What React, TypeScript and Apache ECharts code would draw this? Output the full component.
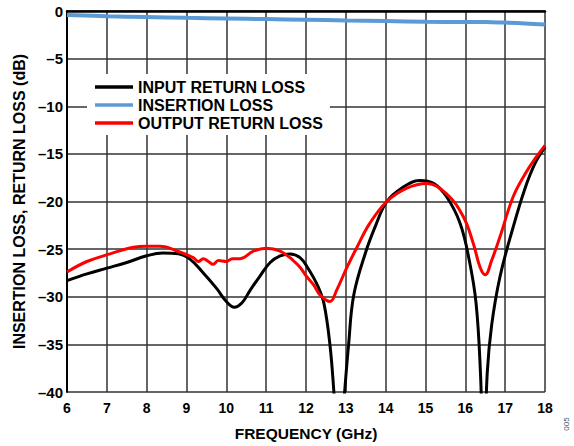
import React, { useEffect, useRef } from "react";
import * as echarts from "echarts";

const xTicks = [6, 7, 8, 9, 10, 11, 12, 13, 14, 15, 16, 17, 18];
const yTicks = [0, -5, -10, -15, -20, -25, -30, -35, -40];

const inputFreq = [6, 6.5, 7, 7.5, 8, 8.4, 8.8, 9.1, 9.4, 9.75, 10.0, 10.2, 10.4, 10.6, 10.85, 11.1, 11.35, 11.6, 11.85, 12.05, 12.3, 12.45, 12.6, 12.7, 12.83, 12.97, 13.07, 13.2, 13.5, 13.75, 14.03, 14.4, 14.85, 15.2, 15.53, 15.87, 16.1, 16.27, 16.38, 16.46, 16.55, 16.66, 16.87, 17.2, 17.5, 17.75, 18];
const inputRL = [-28.3, -27.6, -27.0, -26.4, -25.7, -25.4, -25.5, -26.1, -27.4, -29.1, -30.5, -31.1, -30.6, -29.3, -27.8, -26.4, -25.7, -25.5, -25.9, -27.0, -28.9, -30.7, -35.0, -40.0, -48, -40.0, -35.0, -29.8, -25.3, -22.5, -20.0, -18.6, -17.8, -18.1, -19.5, -22.3, -26.2, -30.7, -38.0, -48, -38.0, -33.0, -27.9, -22.7, -18.6, -16.0, -14.3];

const insertionFreq = [6, 7, 8, 9, 10, 11, 12, 13, 14, 15, 16, 16.5, 17, 17.5, 18];
const insertionLoss = [-0.42, -0.55, -0.64, -0.72, -0.78, -0.85, -0.92, -0.99, -1.05, -1.13, -1.15, -1.16, -1.22, -1.3, -1.42];

const outputFreq = [6, 6.5, 7.08, 7.67, 8.0, 8.33, 8.83, 9.17, 9.3, 9.42, 9.55, 9.67, 9.8, 10.0, 10.15, 10.35, 10.68, 11.0, 11.35, 11.68, 11.85, 12.02, 12.2, 12.35, 12.6, 12.77, 13.03, 13.28, 13.6, 14.03, 14.53, 15.03, 15.53, 15.95, 16.2, 16.37, 16.5, 16.66, 16.87, 17.2, 17.5, 17.75, 18];
const outputRL = [-27.4, -26.3, -25.5, -24.8, -24.7, -24.7, -25.3, -25.9, -26.3, -26.0, -26.3, -26.6, -26.2, -26.3, -26.0, -26.0, -25.2, -24.9, -25.2, -26.2, -26.9, -27.9, -28.8, -29.8, -30.5, -29.3, -26.9, -24.8, -22.3, -20.0, -18.6, -18.1, -19.2, -21.6, -24.4, -26.9, -27.7, -26.2, -23.7, -19.5, -17.1, -15.5, -14.1];

const FONT = "'Liberation Sans', Arial, Helvetica, sans-serif";

function pairs(xs: number[], ys: number[]) {
  return xs.map((x, i) => [x, ys[i]]);
}

export default function App() {
  const ref = useRef<HTMLDivElement>(null);
  useEffect(() => {
    if (!ref.current) return;
    const chart = echarts.init(ref.current, undefined, { renderer: "svg" });
    chart.setOption({
      animation: false,
      backgroundColor: "#fff",
      grid: { left: 67, right: 29, top: 11, bottom: 54, containLabel: false },
      xAxis: {
        type: "value",
        min: xTicks[0],
        max: xTicks[xTicks.length - 1],
        interval: 1,
        name: "FREQUENCY (GHz)",
        nameLocation: "middle",
        nameGap: 33,
        nameTextStyle: { fontFamily: FONT, fontWeight: "bold", fontSize: 15.5, color: "#000" },
        axisLine: { show: true, lineStyle: { color: "#000", width: 2.5 } },
        axisTick: { show: false },
        axisLabel: { fontFamily: FONT, fontWeight: "bold", fontSize: 14, color: "#000", margin: 9 },
        splitLine: { show: true, lineStyle: { color: "#333", width: 1.5 } },
      },
      yAxis: {
        type: "value",
        min: yTicks[yTicks.length - 1],
        max: yTicks[0],
        interval: 5,
        name: "INSERTION LOSS, RETURN LOSS (dB)",
        nameLocation: "middle",
        nameGap: 35,
        nameTextStyle: { fontFamily: FONT, fontWeight: "bold", fontSize: 16, color: "#000" },
        axisLine: { show: true, lineStyle: { color: "#000", width: 2 } },
        axisTick: { show: false },
        axisLabel: {
          fontFamily: FONT,
          fontWeight: "bold",
          fontSize: 15,
          color: "#000",
          margin: 4,
          formatter: (v: number) => (v < 0 ? "\u2013" + Math.abs(v) : String(v)),
        },
        splitLine: { show: true, lineStyle: { color: "#333", width: 1.5 } },
      },
      legend: {
        orient: "vertical",
        left: 87,
        top: 74,
        padding: [5, 7, 4, 8],
        backgroundColor: "#fff",
        itemWidth: 38,
        itemHeight: 3.5,
        itemGap: 2,
        icon: "rect",
        textStyle: { fontFamily: FONT, fontWeight: "bold", fontSize: 16, color: "#000" },
        data: ["INPUT RETURN LOSS", "INSERTION LOSS", "OUTPUT RETURN LOSS"],
      },
      graphic: [
        {
          type: "text",
          x: 566,
          y: 424,
          rotation: Math.PI / 2,
          style: { text: "005", fontFamily: FONT, fontSize: 8, fill: "#555", align: "center", verticalAlign: "middle" },
        },
      ],
      series: [
        {
          name: "INPUT RETURN LOSS",
          type: "line",
          data: pairs(inputFreq, inputRL),
          showSymbol: false,
          symbol: "none",
          smooth: 0.4,
          clip: true,
          color: "#000",
          lineStyle: { color: "#000", width: 3 },
          z: 3,
        },
        {
          name: "INSERTION LOSS",
          type: "line",
          data: pairs(insertionFreq, insertionLoss),
          showSymbol: false,
          symbol: "none",
          smooth: 0.4,
          clip: true,
          color: "#5b9bd5",
          lineStyle: { color: "#5b9bd5", width: 4 },
          z: 3,
        },
        {
          name: "OUTPUT RETURN LOSS",
          type: "line",
          data: pairs(outputFreq, outputRL),
          showSymbol: false,
          symbol: "none",
          smooth: 0.4,
          clip: true,
          color: "#ff0000",
          lineStyle: { color: "#ff0000", width: 3 },
          z: 4,
        },
      ],
    });
    return () => chart.dispose();
  }, []);
  return (
    <div
      ref={ref}
      style={{ position: "absolute", left: 0, top: 0, width: 574, height: 446 }}
    />
  );
}
